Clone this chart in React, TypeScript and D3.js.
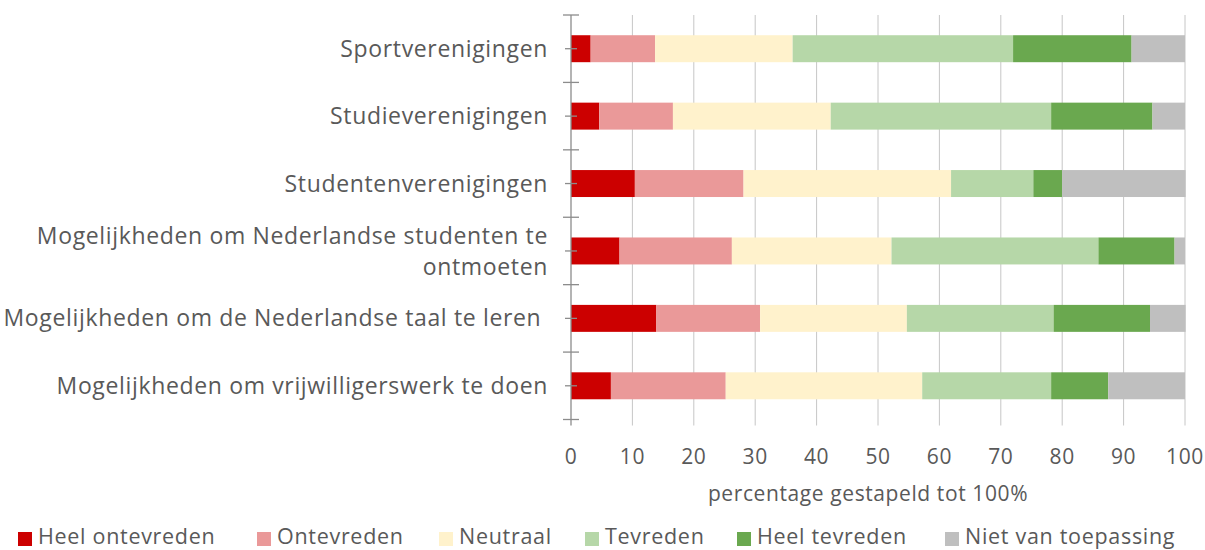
import { useEffect, useRef } from "react";
import * as d3 from "d3";

const categories = [
  "Sportverenigingen",
  "Studieverenigingen",
  "Studentenverenigingen",
  "Mogelijkheden om Nederlandse studenten te ontmoeten",
  "Mogelijkheden om de Nederlandse taal te leren ",
  "Mogelijkheden om vrijwilligerswerk te doen",
];

// wrapped label lines per category
const labelLines = [
  ["Sportverenigingen"],
  ["Studieverenigingen"],
  ["Studentenverenigingen"],
  ["Mogelijkheden om Nederlandse studenten te", "ontmoeten"],
  ["Mogelijkheden om de Nederlandse taal te leren "],
  ["Mogelijkheden om vrijwilligerswerk te doen"],
];

const seriesNames = [
  "Heel ontevreden",
  "Ontevreden",
  "Neutraal",
  "Tevreden",
  "Heel tevreden",
  "Niet van toepassing",
];

const heelOntevreden = [3.2, 4.6, 10.4, 7.9, 13.9, 6.5];
const ontevreden = [10.5, 12.0, 17.7, 18.3, 16.9, 18.7];
const neutraal = [22.4, 25.7, 33.8, 26.0, 23.9, 32.0];
const tevreden = [35.9, 35.9, 13.4, 33.7, 23.9, 21.0];
const heelTevreden = [19.3, 16.5, 4.7, 12.4, 15.7, 9.3];
const nietVanToepassing = [8.7, 5.3, 20.1, 1.7, 5.8, 12.5];

const xTicks = [0, 10, 20, 30, 40, 50, 60, 70, 80, 90, 100];

const colors = ["#cc0000", "#ea9999", "#fff2cc", "#b6d7a8", "#6aa84f", "#bfbfbf"];

const W = 1205;
const H = 550;
const font = "'Open Sans', sans-serif";
const textColor = "#595959";

export default function App() {
  const ref = useRef<SVGSVGElement>(null);

  useEffect(() => {
    const svg = d3.select(ref.current);
    svg.selectAll("*").remove();

    const values = [heelOntevreden, ontevreden, neutraal, tevreden, heelTevreden, nietVanToepassing];
    const rows = categories.map((c, i) => {
      const r: any = { category: c };
      seriesNames.forEach((s, j) => (r[s] = values[j][i]));
      return r;
    });

    const stacked = d3.stack().keys(seriesNames)(rows);

    const x = d3.scaleLinear().domain([0, 100]).range([571, 1185]);
    const y = d3
      .scaleBand()
      .domain(categories)
      .range([15, 419.5])
      .paddingInner(0.6)
      .paddingOuter(0.3);
    const step = y.step();
    const top = 15;
    const bottom = 419.5;

    // gridlines
    svg
      .append("g")
      .selectAll("line")
      .data(xTicks.slice(1))
      .enter()
      .append("line")
      .attr("x1", (d) => x(d))
      .attr("x2", (d) => x(d))
      .attr("y1", top)
      .attr("y2", bottom + 6)
      .attr("stroke", "#c6c6c6")
      .attr("stroke-width", 1);

    // bars
    svg
      .append("g")
      .selectAll("g")
      .data(stacked)
      .enter()
      .append("g")
      .attr("fill", (_d, i) => colors[i])
      .selectAll("rect")
      .data((d) => d)
      .enter()
      .append("rect")
      .attr("x", (d) => x(d[0]))
      .attr("width", (d) => x(d[1]) - x(d[0]))
      .attr("y", (d) => y(d.data.category as string)!)
      .attr("height", y.bandwidth());

    // y axis line and ticks
    const axis = svg.append("g").attr("stroke", "#8c8c8c").attr("stroke-width", 1.3);
    axis
      .append("line")
      .attr("x1", x(0))
      .attr("x2", x(0))
      .attr("y1", top)
      .attr("y2", bottom + 6);
    axis
      .selectAll("line.major")
      .data(d3.range(categories.length + 1))
      .enter()
      .append("line")
      .attr("class", "major")
      .attr("x1", x(0) - 8)
      .attr("x2", x(0) + 8)
      .attr("y1", (i) => top + i * step)
      .attr("y2", (i) => top + i * step);
    axis
      .selectAll("line.minor")
      .data(categories)
      .enter()
      .append("line")
      .attr("class", "minor")
      .attr("x1", x(0) - 6)
      .attr("x2", x(0) + 6)
      .attr("y1", (c) => y(c)! + y.bandwidth() / 2)
      .attr("y2", (c) => y(c)! + y.bandwidth() / 2);

    // category labels
    const labels = svg
      .append("g")
      .attr("font-family", font)
      .attr("font-size", 23)
      .attr("letter-spacing", 0.65)
      .attr("fill", textColor)
      .attr("text-anchor", "end");
    categories.forEach((c, i) => {
      const lines = labelLines[i];
      const cy = y(c)! + y.bandwidth() / 2;
      const lh = 31;
      lines.forEach((t, k) => {
        labels
          .append("text")
          .attr("x", 548)
          .attr("y", cy + (k - (lines.length - 1) / 2) * lh)
          .attr("dy", "0.35em")
          .style("white-space", "pre")
          .text(t);
      });
    });

    // x tick labels
    svg
      .append("g")
      .attr("font-family", font)
      .attr("font-size", 21)
      .attr("letter-spacing", 0.6)
      .attr("fill", textColor)
      .attr("text-anchor", "middle")
      .selectAll("text")
      .data(xTicks)
      .enter()
      .append("text")
      .attr("x", (d) => x(d))
      .attr("y", 457)
      .attr("dy", "0.35em")
      .text((d) => String(d));

    // axis title
    svg
      .append("text")
      .attr("x", 868)
      .attr("y", 494)
      .attr("dy", "0.35em")
      .attr("text-anchor", "middle")
      .attr("font-family", font)
      .attr("font-size", 21)
      .attr("letter-spacing", 0.6)
      .attr("fill", textColor)
      .text("percentage gestapeld tot 100%");

    // legend
    const legendX = [18, 257, 439, 585, 737, 945];
    const lg = svg
      .append("g")
      .attr("font-family", font)
      .attr("font-size", 21.5)
      .attr("letter-spacing", 0.7)
      .attr("fill", textColor);
    seriesNames.forEach((s, i) => {
      lg.append("rect")
        .attr("x", legendX[i])
        .attr("y", 532)
        .attr("width", 14)
        .attr("height", 14)
        .attr("fill", colors[i]);
      lg.append("text")
        .attr("x", legendX[i] + 20)
        .attr("y", 536)
        .attr("dy", "0.35em")
        .text(s);
    });
  }, []);

  return (
    <svg
      ref={ref}
      width={W}
      height={H}
      style={{ position: "absolute", left: 0, top: 0, background: "#fff" }}
    />
  );
}
